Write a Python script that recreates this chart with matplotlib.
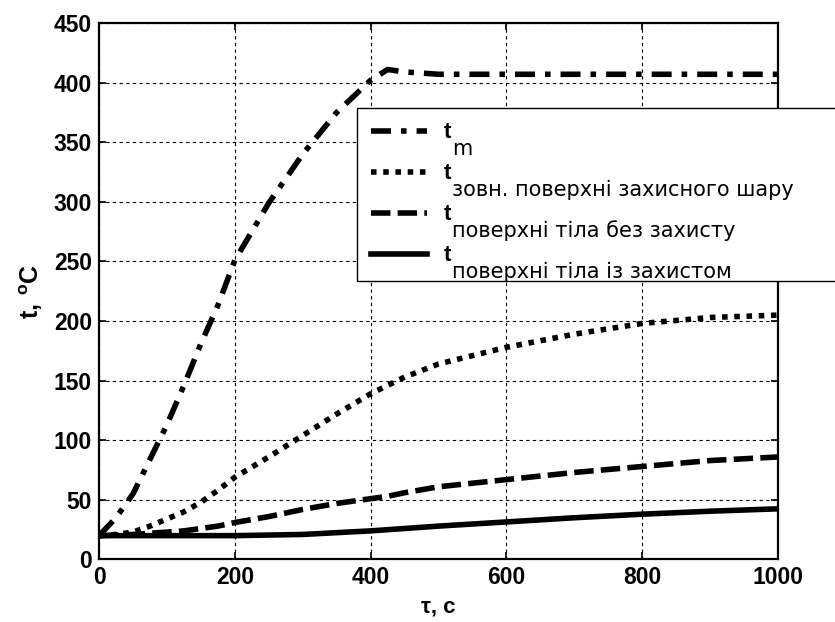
import numpy as np
import matplotlib
matplotlib.use('Agg')
import matplotlib.pyplot as plt

plt.rcParams['font.family'] = ['Liberation Sans', 'DejaVu Sans']
plt.rcParams['mathtext.fontset'] = 'custom'
plt.rcParams['mathtext.rm'] = 'Liberation Sans'
plt.rcParams['mathtext.bf'] = 'Liberation Sans:bold'

# час, с
tau = [0, 25, 50, 75, 100, 125, 150, 175, 200, 250, 300, 350, 400, 425, 450,
       500, 600, 700, 800, 900, 1000]
# температура середовища
t_m = [20, 35, 55, 84, 113, 146, 181, 213, 251, 299, 340, 375, 402, 411, 409,
       407, 407, 407, 407, 407, 407]
# зовнішня поверхня захисного шару
t_layer = [20, 21, 23, 28, 34, 40, 48, 58, 69, 86, 104, 122, 139, 146, 153,
           164, 178, 189, 198, 203, 205]
# поверхня тіла без захисту
t_bare = [20, 20.5, 21, 22, 23, 24, 26, 28, 31, 36, 42, 47, 51, 53, 56,
          61, 67, 73, 78, 83, 86]
# поверхня тіла із захистом
t_prot = [20, 20, 20, 20, 20, 20, 20, 20, 20, 20.5, 21, 22.5, 24, 25, 26,
          28, 31.5, 35, 38, 40.5, 42.5]

subs = ['m', 'зовн. поверхні захисного шару', 'поверхні тіла без захисту',
        'поверхні тіла із захистом']

fig = plt.figure(figsize=(8.35, 6.22), dpi=100)
ax = fig.add_axes([0.1186, 0.1005, 0.8131, 0.8625])

lw = 4
l1, = ax.plot(tau, t_m, color='black', lw=lw, linestyle=(0, (3.6, 1.8, 1.0, 1.8)))
l2, = ax.plot(tau, t_layer, color='black', lw=lw, linestyle=(0, (1.0, 1.2)))
l3, = ax.plot(tau, t_bare, color='black', lw=lw, linestyle=(0, (3.5, 1.3)))
l4, = ax.plot(tau, t_prot, color='black', lw=lw, linestyle='-')

ax.set_xlim(0, 1000)
ax.set_ylim(0, 450)
ax.set_xticks(np.arange(0, 1001, 200))
ax.set_yticks(np.arange(0, 451, 50))
ax.grid(True, color='black', lw=0.8, linestyle=(0, (3, 3)))
ax.tick_params(direction='in', length=5, width=1.2, top=True, right=True,
               labelsize=16.5, pad=5)
for lab in ax.get_xticklabels() + ax.get_yticklabels():
    lab.set_fontweight('bold')
for sp in ax.spines.values():
    sp.set_linewidth(1.6)

ax.set_xlabel('τ, с', fontsize=16, fontweight='bold', labelpad=5)
ax.set_ylabel(r'$\mathbf{t,\,^{o}C}$', fontsize=18, labelpad=6)

leg = ax.legend([l1, l2, l3, l4], ['t'] * 4, loc='upper left',
                bbox_to_anchor=(0.38, 0.5, 0.72, 0.3416), mode='expand',
                borderaxespad=0, fancybox=False, framealpha=1,
                edgecolor='black', prop={'weight': 'bold', 'size': 16},
                handlelength=2.5, handletextpad=0.75, labelspacing=0.9,
                borderpad=0.65)
leg.get_frame().set_linewidth(1.0)

for txt, s in zip(leg.get_texts(), subs):
    ax.annotate(s, xy=(1, 0), xycoords=txt, xytext=(1, -8),
                textcoords='offset points', ha='left', va='baseline',
                fontsize=15, family='DejaVu Sans', zorder=6)

fig.savefig('out.png', dpi=100)
